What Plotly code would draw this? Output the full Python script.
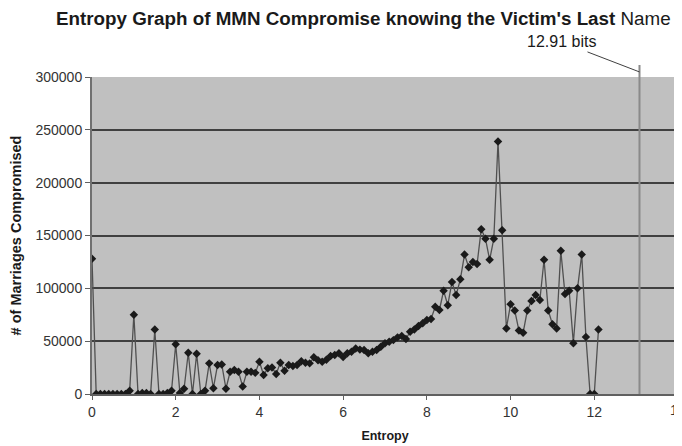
import plotly.graph_objects as go

# entropy (bits) vs number of marriages compromised
entropy = [
    0.0, 0.1, 0.2, 0.3, 0.4, 0.5, 0.6, 0.7, 0.8, 0.9,
    1.0, 1.1, 1.2, 1.3, 1.4, 1.5, 1.6, 1.7, 1.8, 1.9,
    2.0, 2.1, 2.2, 2.3, 2.4, 2.5, 2.6, 2.7, 2.8, 2.9,
    3.0, 3.1, 3.2, 3.3, 3.4, 3.5, 3.6, 3.7, 3.8, 3.9,
    4.0, 4.1, 4.2, 4.3, 4.4, 4.5, 4.6, 4.7, 4.8, 4.9,
    5.0, 5.1, 5.2, 5.3, 5.4, 5.5, 5.6, 5.7, 5.8, 5.9,
    6.0, 6.1, 6.2, 6.3, 6.4, 6.5, 6.6, 6.7, 6.8, 6.9,
    7.0, 7.1, 7.2, 7.3, 7.4, 7.5, 7.6, 7.7, 7.8, 7.9,
    8.0, 8.1, 8.2, 8.3, 8.4, 8.5, 8.6, 8.7, 8.8, 8.9,
    9.0, 9.1, 9.2, 9.3, 9.4, 9.5, 9.6, 9.7, 9.8, 9.9,
    10.0, 10.1, 10.2, 10.3, 10.4, 10.5, 10.6, 10.7, 10.8, 10.9,
    11.0, 11.1, 11.2, 11.3, 11.4, 11.5, 11.6, 11.7, 11.8, 11.9,
    12.0, 12.1,
]
marriages = [
    128000, 0, 0, 0, 0, 0, 0, 0, 0, 3000,
    75000, 0, 1000, 1000, 0, 61000, 0, 0, 1000, 3000,
    47000, 1000, 5000, 39000, 0, 38000, 0, 3000, 29000, 5500,
    27500, 28000, 5000, 21000, 22700, 21000, 7000, 21000, 21000, 20000,
    30500, 18000, 24300, 25000, 19000, 29600, 22000, 27400, 26500, 27400,
    31000, 29600, 29000, 34700, 32000, 30500, 32500, 36000, 37000, 38500,
    35000, 38500, 40000, 43000, 42000, 41600, 38500, 40000, 41600, 44700,
    48000, 49500, 51000, 53600, 55000, 52000, 59000, 61000, 64300, 67000,
    70000, 71000, 82500, 79500, 97700, 84000, 106000, 93600, 108500, 132000,
    120000, 125000, 123000, 156000, 147000, 127000, 147000, 239000, 155000, 62000,
    85000, 79000, 60000, 58000, 79000, 88000, 93600, 89000, 127000, 79000,
    66000, 62000, 135500, 94600, 97700, 48000, 100000, 132000, 54000, 0,
    0, 61000,
]

max_entropy = 13.08  # where the marker line is drawn
x_ticks = [0, 2, 4, 6, 8, 10, 12, 14]
y_ticks = [0, 50000, 100000, 150000, 200000, 250000, 300000]
y_tick_labels = [str(v) for v in y_ticks]

FONT = "Liberation Sans, Arial, sans-serif"

fig = go.Figure()

fig.add_trace(go.Scatter(
    x=entropy,
    y=marriages,
    mode='lines+markers',
    line=dict(color='#505050', width=1.3),
    marker=dict(symbol='diamond', size=6.5, color='#1a1a1a'),
    showlegend=False
))

# vertical marker for the maximum entropy
fig.add_shape(
    type='line', xref='x', yref='paper',
    x0=max_entropy, x1=max_entropy, y0=0, y1=1.038,
    line=dict(color='#8a8a8a', width=2)
)

fig.add_annotation(
    x=max_entropy, xref='x', y=1.016, yref='paper',
    text='12.91 bits', showarrow=True,
    arrowhead=0, arrowwidth=1, arrowcolor='#404040',
    ax=-78, ay=-30,
    font=dict(family=FONT, size=16, color='#1a1a1a')
)

fig.add_annotation(
    x=0.464, xref='paper', y=1.186, yref='paper', yanchor='middle',
    text="<b>Entropy Graph of MMN Compromise knowing the Victim's Last</b> Name",
    showarrow=False,
    font=dict(family=FONT, size=18.8, color='#1a1a1a')
)

# the last tick label sits on the right edge and is cut off there
fig.add_annotation(
    x=x_ticks[-1], xref='x', y=0, yref='paper', yanchor='top',
    text=str(x_ticks[-1]), showarrow=False, yshift=-6,
    font=dict(family=FONT, size=14, color='#333333')
)

# page body adds an 8px margin, so the figure is 8px smaller each way
fig.update_layout(
    width=674,
    height=438,
    margin=dict(l=84, r=4, t=69, b=52),
    paper_bgcolor='white',
    plot_bgcolor='#c0c0c0',
    font=dict(family=FONT, size=14, color='#333333'),
)

fig.update_xaxes(
    range=[0, 14],
    tickvals=x_ticks,
    ticks='outside', ticklen=4, tickcolor='#606060',
    showgrid=False, zeroline=False,
    showline=True, linecolor='#606060', linewidth=2,
    title=dict(text='<b>Entropy</b>', font=dict(size=12.5, color='#1a1a1a'), standoff=12),
    tickfont=dict(size=14, color='#333333'),
    automargin=False,
)

fig.update_yaxes(
    range=[0, 300000],
    tickvals=y_ticks,
    ticktext=y_tick_labels,
    ticks='outside', ticklen=5, tickcolor='#606060',
    showgrid=True, gridcolor='#404040', gridwidth=2,
    zeroline=False,
    showline=True, linecolor='#707070', linewidth=2,
    title=dict(text='<b># of Marriages Compromised</b>', font=dict(size=14.5, color='#1a1a1a'), standoff=10),
    tickfont=dict(size=14, color='#333333'),
    automargin=False,
)

fig.write_html("out.html")
